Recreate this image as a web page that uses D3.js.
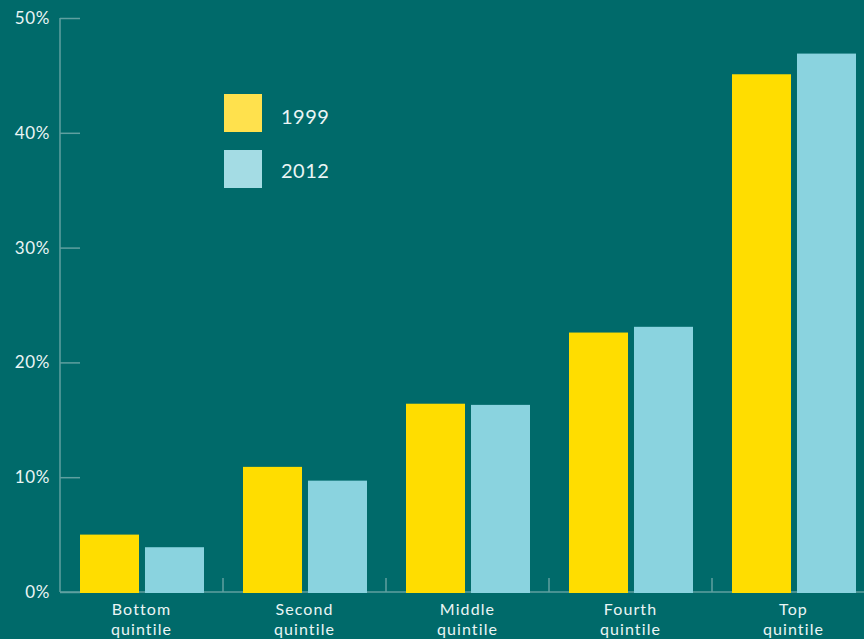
<!DOCTYPE html>
<html>
<head>
<meta charset="utf-8">
<script src="https://cdn.jsdelivr.net/npm/d3@7"></script>
<style>
  html, body { margin: 0; padding: 0; background: #006A6A; }
  svg { display: block; }
</style>
</head>
<body>
<svg id="chart" width="864" height="639"></svg>
<script>
const categories = ["Bottom quintile", "Second quintile", "Middle quintile", "Fourth quintile", "Top quintile"];
const seriesNames = ["1999", "2012"];
const values1999 = [5.0, 10.9, 16.4, 22.6, 45.1];
const values2012 = [3.9, 9.7, 16.3, 23.1, 46.9];
const yTicks = [0, 10, 20, 30, 40, 50];

const barColors = ["#FFDD00", "#8AD3DF"];
const legendColors = ["#FFE14D", "#A4DCE4"];
const textColor = "#EAF5F5";
const axisColor = "#5FA0A0";
const font = "Lato, 'Open Sans', sans-serif";

const svg = d3.select("#chart");
svg.append("rect").attr("width", 864).attr("height", 639).attr("fill", "#006A6A");

const x = d3.scaleBand().domain(categories).range([60, 875]).paddingInner(0).paddingOuter(0);
const xInner = d3.scaleBand().domain(seriesNames).range([20, 144]).paddingInner(0.092);
const y = d3.scaleLinear().domain([0, 50]).range([592, 18]);

// Y axis
const yAxis = svg.append("g").attr("transform", "translate(60,0)")
  .call(d3.axisRight(y).tickValues(yTicks).tickSize(20).tickFormat(""));
yAxis.select(".domain").attr("stroke", axisColor).attr("stroke-width", 1.5).attr("d", "M0,18V592");
yAxis.selectAll(".tick line").attr("stroke", axisColor).attr("stroke-width", 1.5);

svg.append("g").selectAll("text").data(yTicks).join("text")
  .attr("x", 50).attr("y", d => y(d) + 6)
  .attr("text-anchor", "end")
  .attr("fill", textColor).attr("font-family", font).attr("font-size", 17)
  .attr("letter-spacing", 0.6)
  .text(d => d + "%");

// X axis
const xAxis = svg.append("g").attr("transform", "translate(0,592)")
  .call(d3.axisBottom(x).tickSize(0).tickFormat(""));
xAxis.select(".domain").attr("stroke", axisColor).attr("stroke-width", 1.5).attr("d", "M60,0H864");
xAxis.selectAll(".tick").remove();
svg.append("g").selectAll("line").data(categories.slice(1)).join("line")
  .attr("x1", d => x(d)).attr("x2", d => x(d))
  .attr("y1", 578).attr("y2", 592)
  .attr("stroke", axisColor).attr("stroke-width", 1.5);

// Bars
const data = categories.map((c, i) => ({ cat: c, vals: [values1999[i], values2012[i]] }));
const groups = svg.append("g").selectAll("g").data(data).join("g")
  .attr("transform", d => `translate(${x(d.cat)},0)`);
groups.selectAll("rect").data(d => d.vals.map((v, j) => ({ v, s: seriesNames[j], j })))
  .join("rect")
  .attr("x", d => xInner(d.s))
  .attr("width", xInner.bandwidth())
  .attr("y", d => y(d.v))
  .attr("height", d => y(0) - y(d.v) + 1)
  .attr("fill", d => barColors[d.j]);

// Category labels (two lines each)
const labelGroups = svg.append("g").selectAll("g").data(categories).join("g")
  .attr("transform", d => `translate(${x(d) + x.bandwidth() / 2},0)`);
labelGroups.selectAll("text").data(d => d.split(" ")).join("text")
  .attr("x", 0)
  .attr("y", (d, i) => i === 0 ? 615 : 635)
  .attr("text-anchor", "middle")
  .attr("fill", textColor).attr("font-family", font).attr("font-size", 16)
  .attr("letter-spacing", 1.1)
  .text(d => d);

// Legend
const legend = svg.append("g").selectAll("g").data(seriesNames).join("g")
  .attr("transform", (d, i) => `translate(224,${94 + i * 56})`);
legend.append("rect").attr("width", 38).attr("height", 38).attr("fill", (d, i) => legendColors[i]);
legend.append("text").attr("x", 57).attr("y", (d, i) => i === 0 ? 30 : 28)
  .attr("fill", textColor).attr("font-family", font).attr("font-size", 20)
  .attr("letter-spacing", 0.5)
  .text(d => d);
</script>
</body>
</html>
